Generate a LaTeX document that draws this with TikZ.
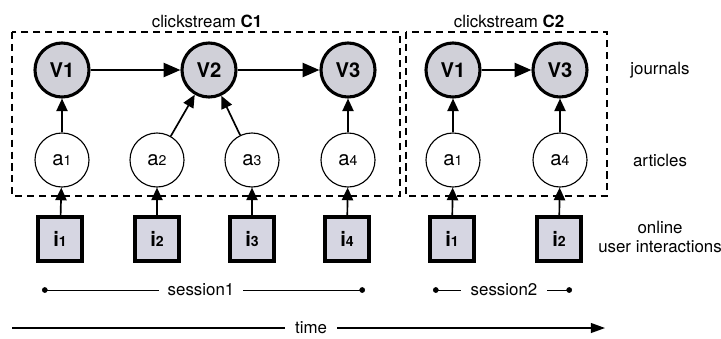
\documentclass[tikz,border=0pt]{standalone}
\usepackage{fontspec}
\setmainfont{TeX Gyre Heros}
\usepackage{xcolor}
\usetikzlibrary{positioning,arrows.meta}

\definecolor{jfill}{RGB}{208,208,216}
\definecolor{ifill}{RGB}{214,214,226}
\newcommand{\sm}[2]{#1{\normalsize #2}}

\begin{document}
\begin{tikzpicture}[x=0.025cm,y=-0.025cm,font=\large,
    journal/.style={circle,draw,line width=2.2pt,fill=jfill,minimum size=1.35cm,inner sep=0pt,font=\Large\bfseries},
    article/.style={circle,draw,line width=0.8pt,minimum size=1.35cm,inner sep=0pt,font=\Large},
    interact/.style={rectangle,draw,line width=2.2pt,fill=ifill,minimum size=1.1cm,inner sep=0pt,font=\Large\bfseries},
    link/.style={-{Triangle[length=12pt,width=10pt]},line width=1.6pt},
    uplink/.style={-{Triangle[length=9pt,width=8pt]},line width=1.2pt},
    stream/.style={dashed,line width=1pt,dash pattern=on 5pt off 3.5pt}]
    \useasboundingbox (0,0) rectangle (721,338);

    % clickstream boxes
    \draw [stream] (12,32) rectangle (400,196);
    \draw [stream] (406,32) rectangle (607,196);
    \node (c1) at (207,21) {clickstream \textbf{C1}};
    \node (c2) at (509,21) {clickstream \textbf{C2}};

    % journals
    \node [journal] (v1) at (62,70) {V1};
    \node [journal] (v2) at (209,70) {V2};
    \node [journal] (v3) at (348,70) {V3};
    \node [journal] (w1) at (453,70) {V1};
    \node [journal] (w3) at (560,70) {V3};

    % articles
    \node [article] (a1) at (62,160) {\sm{a}{1}};
    \node [article] (a2) at (157,160) {\sm{a}{2}};
    \node [article] (a3) at (252,160) {\sm{a}{3}};
    \node [article] (a4) at (348,160) {\sm{a}{4}};
    \node [article] (b1) at (453,160) {\sm{a}{1}};
    \node [article] (b4) at (560,160) {\sm{a}{4}};

    % online user interactions
    \node [interact] (i1) at (60,239) {\sm{i}{1}};
    \node [interact] (i2) at (157,239) {\sm{i}{2}};
    \node [interact] (i3) at (252,239) {\sm{i}{3}};
    \node [interact] (i4) at (347,239) {\sm{i}{4}};
    \node [interact] (j1) at (452,239) {\sm{i}{1}};
    \node [interact] (j2) at (559,239) {\sm{i}{2}};

    % level labels
    \node (jl) at (660,70) {journals};
    \node (al) at (660,160) {articles};
    \node [align=center] (ul) at (660,237) {online\\user interactions};

    % left to right arrows
    \draw [link] (v1) -- (v2);
    \draw [link] (v2) -- (v3);
    \draw [link] (w1) -- (w3);

    % up arrows
    \draw [uplink] (a1) -- (v1);
    \draw [uplink] (a2) -- (v2);
    \draw [uplink] (a3) -- (v2);
    \draw [uplink] (a4) -- (v3);
    \draw [uplink] (b1) -- (w1);
    \draw [uplink] (b4) -- (w3);
    \draw [uplink] (i1) -- (a1);
    \draw [uplink] (i2) -- (a2);
    \draw [uplink] (i3) -- (a3);
    \draw [uplink] (i4) -- (a4);
    \draw [uplink] (j1) -- (b1);
    \draw [uplink] (j2) -- (b4);

    % sessions
    \coordinate (s1l) at (42,290);
    \coordinate (s1r) at (365,290);
    \node [inner sep=6pt] (s1) at (201,290) {session1};
    \draw [{Circle[length=4pt]}-] (s1l) -- (s1);
    \draw [-{Circle[length=4pt]}] (s1) -- (s1r);
    \coordinate (s2l) at (433,290);
    \coordinate (s2r) at (572,290);
    \node [inner sep=7pt] (s2) at (504,290) {session2};
    \draw [{Circle[length=4pt]}-] (s2l) -- (s2);
    \draw [-{Circle[length=4pt]}] (s2) -- (s2r);

    % time
    \coordinate (t0) at (12,328);
    \coordinate (t1) at (605,328);
    \node [inner sep=7pt] (time) at (311,328) {time};
    \draw [line width=1pt] (t0) -- (time);
    \draw [line width=1pt,-{Triangle[length=10pt,width=7pt]}] (time) -- (t1);
\end{tikzpicture}
\end{document}
